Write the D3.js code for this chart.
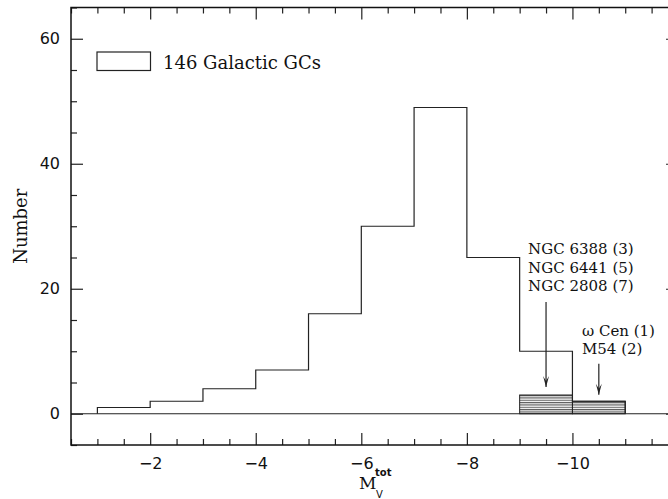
<!DOCTYPE html>
<html>
<head>
<meta charset="utf-8">
<script src="https://cdn.jsdelivr.net/npm/d3@7"></script>
<style>
  body { margin: 0; background: #fff; }
  svg { display: block; }
  .tick text { font-family: 'DejaVu Sans', sans-serif; font-size: 16px; fill: #111; }
  .lbl { font-family: 'DejaVu Serif', serif; fill: #111; }
</style>
</head>
<body>
<svg width="668" height="499"></svg>
<script>
// histogram of integrated magnitudes (bins of 1 mag, left edge given)
const binEdges = [-1, -2, -3, -4, -5, -6, -7, -8, -9, -10];
const counts   = [1, 2, 4, 7, 16, 30, 49, 25, 10, 2];
// clusters with extended HB (hatched)
const hatchEdges  = [-9, -10];
const hatchCounts = [3, 2];

const xMajor = [-2, -4, -6, -8, -10];
const yMajor = [0, 20, 40, 60];

const groups = [
  { x: -9.5, y0: 17.9, y1: 4.3, labels: ['NGC 6388 (3)', 'NGC 6441 (5)', 'NGC 2808 (7)'], tx: -9.16, ty: [25.6, 22.55, 19.6] },
  { x: -10.5, y0: 8.0, y1: 3.05, labels: ['\u03C9 Cen (1)', 'M54 (2)'], tx: -10.18, ty: [12.45, 9.55] }
];

const svg = d3.select('svg');
const margin = { left: 71, top: 7.5 },
    width = 607, height = 437.5;

const x = d3.scaleLinear().domain([-0.5, -12]).range([margin.left, margin.left + width]);
const y = d3.scaleLinear().domain([-5, 65]).range([margin.top + height, margin.top]);

const defs = svg.append('defs');
const pat = defs.append('pattern')
    .attr('id', 'hatch')
    .attr('patternUnits', 'userSpaceOnUse')
    .attr('width', 10).attr('height', 2.34)
    .attr('y', y(0));
pat.append('line')
    .attr('x1', 0).attr('x2', 10).attr('y1', 0.6).attr('y2', 0.6)
    .attr('stroke', '#444').attr('stroke-width', 1);

defs.append('clipPath').attr('id', 'clip').append('rect')
    .attr('x', margin.left).attr('y', margin.top).attr('width', width).attr('height', height);

const plot = svg.append('g').attr('clip-path', 'url(#clip)');

// zero line
plot.append('line')
    .attr('x1', x(-0.5)).attr('x2', x(-12))
    .attr('y1', y(0)).attr('y2', y(0))
    .attr('stroke', '#222').attr('stroke-width', 1.2);

// hatched bins
plot.selectAll('.hb')
    .data(hatchEdges.map((e, i) => ({ e: e, c: hatchCounts[i] })))
    .enter().append('rect')
    .attr('class', 'hb')
    .attr('x', d => x(d.e))
    .attr('width', d => x(d.e - 1) - x(d.e))
    .attr('y', d => y(d.c))
    .attr('height', d => y(0) - y(d.c))
    .attr('fill', 'url(#hatch)')
    .attr('stroke', '#222').attr('stroke-width', 1);

// main histogram as a step outline
let pts = [[binEdges[0], 0]];
binEdges.forEach((e, i) => {
    pts.push([e, counts[i]]);
    pts.push([e - 1, counts[i]]);
});
pts.push([binEdges[binEdges.length - 1] - 1, 0]);

plot.append('path')
    .attr('d', d3.line().x(d => x(d[0])).y(d => y(d[1]))(pts))
    .attr('fill', 'none')
    .attr('stroke', '#222').attr('stroke-width', 1.2);

// arrows + labels
groups.forEach(g => {
    const px = x(g.x), ya = y(g.y0), yb = y(g.y1);
    plot.append('line')
        .attr('x1', px).attr('x2', px).attr('y1', ya).attr('y2', yb)
        .attr('stroke', '#222').attr('stroke-width', 1.2);
    plot.append('path')
        .attr('d', 'M' + px + ',' + yb + 'L' + (px - 3) + ',' + (yb - 11) + 'L' + px + ',' + (yb - 6) + 'L' + (px + 3) + ',' + (yb - 11) + 'Z')
        .attr('fill', '#222');
    g.labels.forEach((t, i) => {
        svg.append('text').attr('class', 'lbl')
            .attr('x', x(g.tx)).attr('y', y(g.ty[i]))
            .attr('font-size', 15)
            .text(t);
    });
});

// axes, ticks pointing inward on all sides
const xMinor = d3.range(-0.5, -12.01, -0.5).filter(v => !xMajor.includes(v));
const yMinor = d3.range(-5, 65.01, 5).filter(v => !yMajor.includes(v));

function styleAxis(sel) {
    sel.select('.domain').remove();
    sel.selectAll('.tick line').attr('stroke', '#222').attr('stroke-width', 1.2);
}

svg.append('g').attr('transform', 'translate(0,' + y(-5) + ')')
    .call(d3.axisBottom(x).tickValues(xMajor).tickSize(-12).tickPadding(18).tickFormat(d3.format('d')))
    .call(styleAxis)
    .selectAll('text').attr('dy', '0.35em');
svg.append('g').attr('transform', 'translate(0,' + y(-5) + ')')
    .call(d3.axisBottom(x).tickValues(xMinor).tickSize(-6).tickFormat(''))
    .call(styleAxis);
svg.append('g').attr('transform', 'translate(0,' + y(65) + ')')
    .call(d3.axisTop(x).tickValues(xMajor).tickSize(-12).tickFormat(''))
    .call(styleAxis);
svg.append('g').attr('transform', 'translate(0,' + y(65) + ')')
    .call(d3.axisTop(x).tickValues(xMinor).tickSize(-6).tickFormat(''))
    .call(styleAxis);

svg.append('g').attr('transform', 'translate(' + x(-0.5) + ',0)')
    .call(d3.axisLeft(y).tickValues(yMajor).tickSize(-12).tickPadding(-1))
    .call(styleAxis)
    .selectAll('text').attr('x', -11);
svg.append('g').attr('transform', 'translate(' + x(-0.5) + ',0)')
    .call(d3.axisLeft(y).tickValues(yMinor).tickSize(-6).tickFormat(''))
    .call(styleAxis);
svg.append('g').attr('transform', 'translate(' + x(-12) + ',0)')
    .call(d3.axisRight(y).tickValues(yMajor).tickSize(-12).tickFormat(''))
    .call(styleAxis);
svg.append('g').attr('transform', 'translate(' + x(-12) + ',0)')
    .call(d3.axisRight(y).tickValues(yMinor).tickSize(-6).tickFormat(''))
    .call(styleAxis);

// frame
svg.append('rect')
    .attr('x', x(-0.5)).attr('y', y(65))
    .attr('width', x(-12) - x(-0.5)).attr('height', y(-5) - y(65))
    .attr('fill', 'none').attr('stroke', '#111').attr('stroke-width', 1.5);

// legend
svg.append('rect')
    .attr('x', 97).attr('y', 52).attr('width', 53.5).attr('height', 18.5)
    .attr('fill', 'none').attr('stroke', '#222').attr('stroke-width', 1.2);
svg.append('text').attr('class', 'lbl')
    .attr('x', 163).attr('y', 68.5).attr('font-size', 18)
    .text('146 Galactic GCs');

// axis titles
svg.append('text').attr('class', 'lbl')
    .attr('text-anchor', 'middle')
    .attr('transform', 'translate(27,' + (margin.top + height / 2) + ')rotate(-90)')
    .attr('font-size', 18)
    .text('Number');

const xt = svg.append('text').attr('class', 'lbl').attr('x', 359).attr('y', 489).attr('font-size', 17);
xt.append('tspan').text('M');
xt.append('tspan').attr('x', 376).attr('y', 497.5).attr('font-size', 10).attr('font-family', 'DejaVu Sans').text('V');
xt.append('tspan').attr('x', 375).attr('y', 476).attr('font-size', 10).attr('font-family', 'DejaVu Sans').attr('font-weight', 'bold').text('tot');
</script>
</body>
</html>
